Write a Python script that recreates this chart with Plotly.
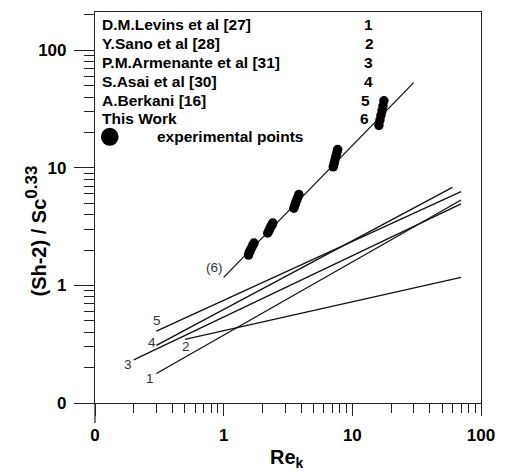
import numpy as np
import plotly.graph_objects as go

# ---------------- data ----------------
legend_names = ["D.M.Levins et al [27]", "Y.Sano et al [28]", "P.M.Armenante et al [31]",
                "S.Asai et al [30]", "A.Berkani [16]", "This Work"]
legend_nums = ["1", "2", "3", "4", "5", "6"]
marker_label = "experimental points"

# correlation lines (Re_k, (Sh-2)/Sc^0.33) end points
line1_x = [0.3, 70];  line1_y = [0.178, 5.33]
line2_x = [0.5, 70];  line2_y = [0.348, 1.17]
line3_x = [0.2, 70];  line3_y = [0.233, 4.93]
line4_x = [0.3, 60];  line4_y = [0.309, 6.82]
line5_x = [0.3, 70];  line5_y = [0.408, 6.27]
line6_x = [1.0, 30];  line6_y = [1.17, 53.0]

# experimental points
exp_re = [1.56, 1.58, 1.61, 1.64, 1.68, 1.72,
          2.20, 2.24, 2.28, 2.32, 2.37, 2.41,
          3.51, 3.57, 3.63, 3.70, 3.77, 3.84,
          7.11, 7.22, 7.33, 7.45, 7.57, 7.69,
          16.1, 16.4, 16.7, 17.0, 17.3, 17.6]
exp_y = [1.81, 1.90, 1.98, 2.07, 2.18, 2.29,
         2.79, 2.90, 3.02, 3.14, 3.27, 3.39,
         4.54, 4.80, 5.06, 5.35, 5.62, 5.92,
         10.2, 10.9, 11.7, 12.5, 13.4, 14.3,
         23.0, 25.5, 28.0, 30.5, 33.5, 37.1]

tick_vals = [0.1, 1, 10, 100]
tick_text = ["0", "1", "10", "100"]
minor_vals = [0.2, 0.3, 0.4, 0.5, 0.6, 0.7, 0.8, 0.9,
              2, 3, 4, 5, 6, 7, 8, 9,
              20, 30, 40, 50, 60, 70, 80, 90]
minor_vals_y = minor_vals + [200]

# ---------------- figure ----------------
W, H = 506, 472
ML, MR, MT, MB = 95, 19, 11, 69.3
PW, PH = W - ML - MR, H - MT - MB
FONT = "Liberation Sans, Arial, sans-serif"


def paper(px, py):
    return (px - ML) / PW, (H - MB - py) / PH


fig = go.Figure()
lines = [(line1_x, line1_y), (line2_x, line2_y), (line3_x, line3_y),
         (line4_x, line4_y), (line5_x, line5_y), (line6_x, line6_y)]
for lx, ly in lines:
    fig.add_trace(go.Scatter(x=lx, y=ly, mode="lines",
                             line=dict(color="#111111", width=1.3),
                             showlegend=False, hoverinfo="skip"))

fig.add_trace(go.Scatter(x=exp_re, y=exp_y, mode="markers",
                         marker=dict(color="black", size=9.5),
                         showlegend=False))

axis_common = dict(type="log", showgrid=False, zeroline=False, showline=True,
                   linecolor="#222222", linewidth=1.2, mirror=True,
                   ticks="outside", tickcolor="#222222", tickwidth=1.2,
                   tickmode="array", tickvals=tick_vals, ticktext=tick_text,
                   tickfont=dict(family=FONT, size=17, color="black", weight="bold"))

fig.update_xaxes(**axis_common, range=[-1, 2], ticklen=12, ticklabelstandoff=4,
                 minor=dict(tickmode="array", tickvals=minor_vals, ticklen=9,
                            ticks="outside", tickcolor="#222222", tickwidth=1))
fig.update_yaxes(**axis_common, range=[-1, -1 + PH / 117.8], ticklen=20,
                 ticklabelstandoff=4,
                 minor=dict(tickmode="array", tickvals=minor_vals_y, ticklen=10,
                            ticks="outside", tickcolor="#222222", tickwidth=1))

annotations = []
# legend block
row_y = [24, 43, 62, 81, 100, 118]
num_x = [373, 374, 373, 373, 370, 369]
for i, name in enumerate(legend_names):
    x, y = paper(100, row_y[i])
    annotations.append(dict(x=x, y=y, xref="paper", yref="paper", text=name,
                            showarrow=False, xanchor="left", yanchor="middle",
                            font=dict(family=FONT, size=15.5, color="black", weight="bold")))
    x, y = paper(num_x[i], row_y[i])
    annotations.append(dict(x=x, y=y, xref="paper", yref="paper", text=legend_nums[i],
                            showarrow=False, xanchor="center", yanchor="middle",
                            font=dict(family=FONT, size=15.5, color="black", weight="bold")))
x, y = paper(156, 136)
annotations.append(dict(x=x, y=y, xref="paper", yref="paper", text=marker_label,
                        showarrow=False, xanchor="left", yanchor="middle",
                        font=dict(family=FONT, size=15.5, color="black", weight="bold")))

# line labels
lab_pos = [(150.5, 378), (187.5, 346), (128.5, 364), (152.5, 342), (157.5, 320), (216, 267)]
for lab, (px, py) in zip(["1", "2", "3", "4", "5", "(6)"], lab_pos):
    x, y = paper(px, py)
    annotations.append(dict(x=x, y=y, xref="paper", yref="paper", text=lab,
                            showarrow=False, xanchor="center", yanchor="middle",
                            font=dict(family=FONT, size=13.5, color="#333333")))

# axis titles
x, y = paper(35, 230)
annotations.append(dict(x=x, y=y, xref="paper", yref="paper", textangle=-90,
                        text="(Sh-2) / Sc<sup><span style='font-size:17px'>0.33</span></sup>",
                        showarrow=False, xanchor="center", yanchor="middle",
                        font=dict(family=FONT, size=20, color="black", weight="bold")))
x, y = paper(290, 458)
annotations.append(dict(x=x, y=y, xref="paper", yref="paper", text="Re<sub>k</sub>",
                        showarrow=False, xanchor="center", yanchor="middle",
                        font=dict(family=FONT, size=20, color="black", weight="bold")))

# big bullet for legend
bx0, by0 = paper(101, 145)
bx1, by1 = paper(119, 127)
shapes = [dict(type="circle", xref="paper", yref="paper", x0=bx0, y0=by0, x1=bx1, y1=by1,
               fillcolor="black", line=dict(color="black", width=0)),
          dict(type="line", xref="paper", yref="paper", x0=0, x1=0, y0=0, y1=-20 / PH,
               line=dict(color="#222222", width=1.2))]

fig.update_layout(width=W, height=H, margin=dict(l=ML, r=MR, t=MT, b=MB),
                  paper_bgcolor="white", plot_bgcolor="white",
                  annotations=annotations, shapes=shapes, showlegend=False)

fig.write_html("out.html")
